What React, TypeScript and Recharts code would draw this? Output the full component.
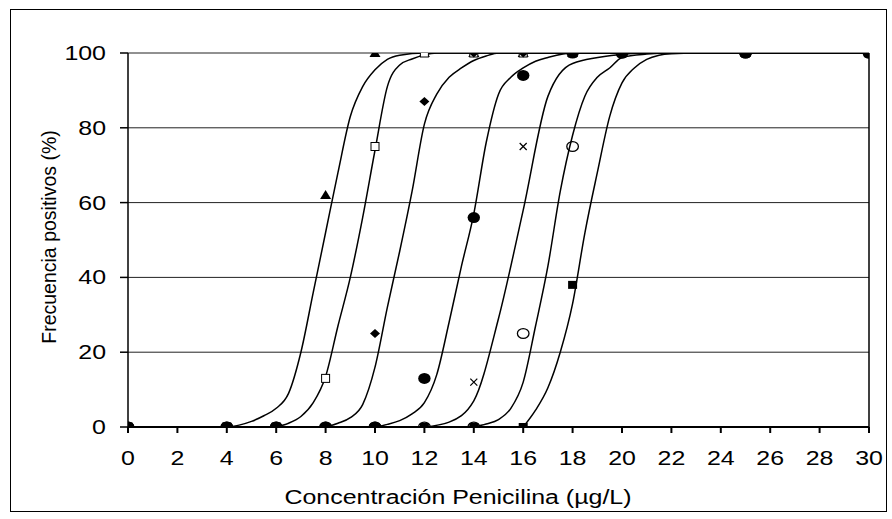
import { ComposedChart, Line, Scatter, XAxis, YAxis, CartesianGrid, ReferenceLine } from 'recharts';

const FONT = '"Liberation Sans", Arial, sans-serif';
const STRETCH = 1.28;

// concentrations where the strains were tested
const CONC = [0, 4, 6, 8, 10, 12, 14, 16, 18, 20, 25, 30];
const X_TICKS = [0, 2, 4, 6, 8, 10, 12, 14, 16, 18, 20, 22, 24, 26, 28, 30];
const Y_TICKS = [0, 20, 40, 60, 80, 100];

// observed % positives per series
const obsTriangle = [0, 0, 0, 62, 100, 100, 100, 100, 100, 100, 100, 100];
const obsOpenSquare = [0, 0, 0, 13, 75, 100, 100, 100, 100, 100, 100, 100];
const obsDiamond = [0, 0, 0, 0, 25, 87, 100, 100, 100, 100, 100, 100];
const obsCircle = [0, 0, 0, 0, 0, 13, 56, 94, 100, 100, 100, 100];
const obsCross = [0, 0, 0, 0, 0, 0, 12, 75, 100, 100, 100, 100];
const obsOpenCircle = [0, 0, 0, 0, 0, 0, 0, 25, 75, 100, 100, 100];
const obsSquare = [0, 0, 0, 0, 0, 0, 0, 0, 38, 100, 100, 100];

// fitted curves as [x, %]
const fitTriangle = [[4, 0], [4.5, 0.5], [5, 1.5], [5.5, 3], [6, 5], [6.5, 9], [7, 20], [7.5, 36], [8, 52], [8.5, 68], [9, 83], [9.5, 91], [10, 95.5], [10.5, 98.3], [11, 99.4], [12, 100], [30, 100]];
const fitOpenSquare = [[6, 0], [6.5, 1], [7, 2.8], [7.5, 6.5], [8, 13.5], [8.5, 27], [9, 40], [9.5, 56], [10, 74], [10.5, 91], [11, 96.8], [11.5, 98.4], [12, 99.5], [12.5, 100], [30, 100]];
const fitDiamond = [[8, 0], [8.5, 1], [9, 2.5], [9.5, 6], [10, 16], [10.5, 32], [11, 47], [11.5, 63], [12, 81], [12.5, 89], [13, 93.5], [13.5, 96], [14, 98], [14.5, 99.2], [15, 100], [30, 100]];
const fitCircle = [[10, 0], [10.5, 0.7], [11, 1.7], [11.5, 3.5], [12, 6.5], [12.5, 14], [13, 28], [13.5, 43], [14, 57], [14.5, 76], [15, 89], [15.5, 93.5], [16, 96], [16.5, 97.8], [17, 98.8], [18, 100], [30, 100]];
const fitCross = [[12, 0], [13, 1.3], [14, 7], [15, 29], [16, 58], [17, 88.4], [18, 97.2], [20, 99.6], [21, 100], [30, 100]];
const fitOpenCircle = [[14, 0], [14.5, 0.8], [15, 2], [15.5, 5], [16, 12], [16.5, 27], [17, 43], [17.5, 63], [18, 78], [18.5, 88.5], [19, 93.5], [19.5, 96], [20, 98.8], [21, 99.7], [22, 100], [30, 100]];
const fitSquare = [[16, 0], [16.5, 4.5], [17, 10.5], [17.5, 20], [18, 33], [18.5, 52], [19, 68], [19.5, 83], [20, 92], [20.5, 96], [21, 98.3], [21.5, 99.4], [22, 99.8], [23, 100], [30, 100]];

const toObs = (vals: number[]) => vals.map((y, i) => ({ x: CONC[i], y }));
const toFit = (pts: number[][]) => pts.map(([x, y]) => ({ x, y }));

const Triangle = ({ cx, cy }: any) => (
  <polygon points={`${cx},${cy - 5} ${cx + 5.5},${cy + 4} ${cx - 5.5},${cy + 4}`} fill="#000" />
);
const OpenSquare = ({ cx, cy }: any) => (
  <rect x={cx - 4} y={cy - 4} width={8} height={8} fill="#fff" stroke="#000" strokeWidth={1} />
);
const Diamond = ({ cx, cy }: any) => (
  <polygon points={`${cx},${cy - 4.5} ${cx + 5},${cy} ${cx},${cy + 4.5} ${cx - 5},${cy}`} fill="#000" />
);
const Ball = ({ cx, cy }: any) => <ellipse cx={cx} cy={cy} rx={6.2} ry={5.5} fill="#000" />;
const Cross = ({ cx, cy }: any) => (
  <g stroke="#000" strokeWidth={1.2}>
    <line x1={cx - 3.5} y1={cy - 3.5} x2={cx + 3.5} y2={cy + 3.5} />
    <line x1={cx - 3.5} y1={cy + 3.5} x2={cx + 3.5} y2={cy - 3.5} />
  </g>
);
const OpenCircle = ({ cx, cy }: any) => (
  <ellipse cx={cx} cy={cy} rx={5.8} ry={4.8} fill="none" stroke="#000" strokeWidth={1.3} />
);
const FilledSquare = ({ cx, cy }: any) => <rect x={cx - 4.5} y={cy - 4} width={9} height={8} fill="#000" />;

const XTick = ({ x, payload }: any) => (
  <text transform={`translate(${x},465) scale(${STRETCH},1)`} textAnchor="middle" fontFamily={FONT} fontSize={19.5} fill="#000">
    {payload.value}
  </text>
);
const YTick = ({ y, payload }: any) => (
  <text transform={`translate(106,${y + 7}) scale(${STRETCH},1)`} textAnchor="end" fontFamily={FONT} fontSize={19.5} fill="#000">
    {payload.value}
  </text>
);

const curves = [fitTriangle, fitOpenSquare, fitDiamond, fitCircle, fitCross, fitOpenCircle, fitSquare];
const markers: [number[], any][] = [
  [obsCross, Cross],
  [obsOpenCircle, OpenCircle],
  [obsSquare, FilledSquare],
  [obsTriangle, Triangle],
  [obsOpenSquare, OpenSquare],
  [obsDiamond, Diamond],
  [obsCircle, Ball],
];

export default function App() {
  return (
    <div style={{ position: 'absolute', left: 0, top: 0, width: 892, height: 519, background: '#fff' }}>
      <div style={{ position: 'absolute', left: 10, top: 9, width: 877, height: 503, border: '1.5px solid #000', boxSizing: 'border-box' }} />
      <ComposedChart width={892} height={519} margin={{ top: 53, right: 23, bottom: 52, left: 68 }} style={{ position: 'absolute', left: 0, top: 0 }}>
        <CartesianGrid horizontal vertical={false} stroke="#222" strokeWidth={1} />
        <XAxis
          type="number"
          dataKey="x"
          domain={[0, 30]}
          ticks={X_TICKS}
          interval={0}
          height={40}
          tickSize={6}
          stroke="#000"
          strokeWidth={2}
          tick={XTick}
          allowDataOverflow
        />
        <YAxis
          type="number"
          dataKey="y"
          domain={[0, 100]}
          ticks={Y_TICKS}
          interval={0}
          width={60}
          tickSize={8}
          stroke="#000"
          strokeWidth={1.5}
          tick={YTick}
          allowDataOverflow
        />
        <ReferenceLine x={30} stroke="#000" strokeWidth={1.5} ifOverflow="visible" />
        {curves.map((c, i) => (
          <Line
            key={`fit${i}`}
            data={toFit(c)}
            dataKey="y"
            type="monotone"
            stroke="#000"
            strokeWidth={1.5}
            dot={false}
            activeDot={false}
            isAnimationActive={false}
          />
        ))}
        {markers.map(([vals, shape], i) => (
          <Scatter key={`obs${i}`} data={toObs(vals)} dataKey="y" shape={shape} isAnimationActive={false} />
        ))}
        <text x={56} y={237} transform="rotate(-90, 56, 237)" textAnchor="middle" fontFamily={FONT} fontSize={19.5} fill="#000">
          Frecuencia positivos (%)
        </text>
        <text transform={`translate(458,504) scale(${STRETCH},1)`} textAnchor="middle" fontFamily={FONT} fontSize={19.5} fill="#000">
          Concentración Penicilina (µg/L)
        </text>
      </ComposedChart>
    </div>
  );
}
